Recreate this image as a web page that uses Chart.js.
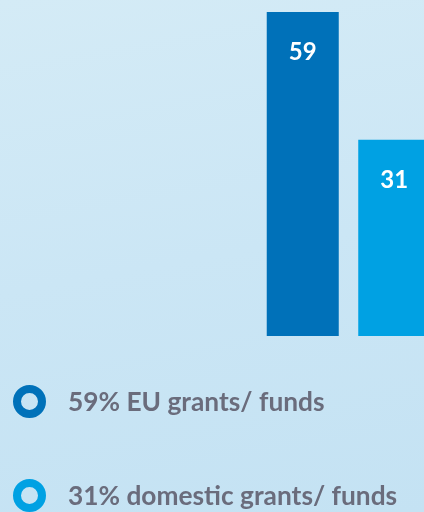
<!DOCTYPE html>
<html>
<head>
<meta charset="utf-8">
<script src="https://cdn.jsdelivr.net/npm/chart.js@4"></script>
<style>
  html, body {
    margin: 0;
    width: 424px;
    height: 512px;
    overflow: hidden;
    background: linear-gradient(170deg, #d4ebf6 0%, #cbe6f5 50%, #c4e2f3 100%);
    font-family: Lato, sans-serif;
  }
  #bars {
    position: absolute;
    left: 257px;
    top: 0;
    width: 183px;
    height: 512px;
  }
  .legend-row {
    position: absolute;
    left: 13px;
    display: flex;
    align-items: center;
    height: 34px;
  }
  .ring {
    width: 33px;
    height: 33px;
    box-sizing: border-box;
    border-radius: 50%;
    border-width: 8px;
    border-style: solid;
  }
  .legend-text {
    margin-left: 22px;
    font-size: 26.3px;
    font-weight: bold;
    color: #6a6c7c;
  }
</style>
</head>
<body>
<div id="bars"><canvas id="chart"></canvas></div>
<div id="legend"></div>
<script>
const labels = ["EU grants/ funds", "domestic grants/ funds"];
const values = [59, 31];
const colors = ["#0071b9", "#00a1e3"];
const yMin = -12;
const yMax = 59;

// white value labels inside the top of each bar
const valueLabels = {
  id: "valueLabels",
  afterDatasetsDraw(chart) {
    const ctx = chart.ctx;
    const meta = chart.getDatasetMeta(0);
    ctx.save();
    ctx.fillStyle = "#ffffff";
    ctx.font = "bold 24px Lato";
    ctx.textAlign = "center";
    ctx.textBaseline = "middle";
    meta.data.forEach((bar, i) => {
      ctx.fillText(String(values[i]), bar.x, bar.y + 40);
    });
    ctx.restore();
  },
};

const chart = new Chart(document.getElementById("chart"), {
  type: "bar",
  data: {
    labels: labels,
    datasets: [
      {
        data: values,
        backgroundColor: colors,
        borderWidth: 0,
        base: yMin,
        barPercentage: 1,
        categoryPercentage: 0.787,
      },
    ],
  },
  options: {
    responsive: true,
    maintainAspectRatio: false,
    animation: false,
    layout: {
      padding: { top: 12, bottom: 176, left: 0, right: 0 },
    },
    plugins: {
      legend: { display: false },
      tooltip: { enabled: false },
    },
    scales: {
      x: { display: false },
      y: { display: false, min: yMin, max: yMax },
    },
  },
  plugins: [valueLabels],
});

// legend with ring markers
const legend = document.getElementById("legend");
const rowTops = [384, 478];
labels.forEach((label, i) => {
  const row = document.createElement("div");
  row.className = "legend-row";
  row.style.top = rowTops[i] + "px";
  const ring = document.createElement("div");
  ring.className = "ring";
  ring.style.borderColor = colors[i];
  const text = document.createElement("span");
  text.className = "legend-text";
  text.textContent = values[i] + "% " + label;
  row.appendChild(ring);
  row.appendChild(text);
  legend.appendChild(row);
});
</script>
</body>
</html>
